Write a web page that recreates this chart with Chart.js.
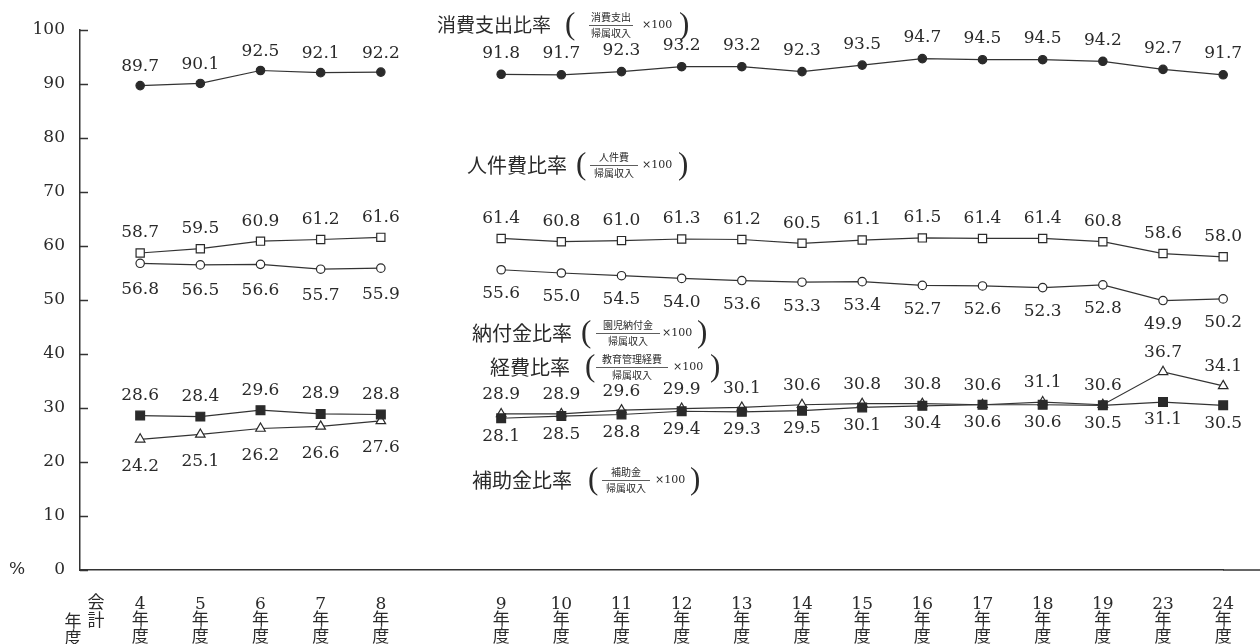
<!DOCTYPE html>
<html><head><meta charset="utf-8">
<script src="https://cdn.jsdelivr.net/npm/chart.js@4.4.1/dist/chart.umd.min.js"></script>
<style>html,body{margin:0;padding:0;background:#fff}#wrap{width:1260px;height:644px;position:relative}</style>
</head><body><div id="wrap"><canvas id="c"></canvas></div>
<script>
// Categories (fiscal years); "" entries are spacing slots (leading slot and gap between 8 and 9)
const categories = ["", "4","5","6","7","8", "", "9","10","11","12","13","14","15","16","17","18","19","23","24"];
const yTicks = [0,10,20,30,40,50,60,70,80,90,100];

// 消費支出比率 (filled circles)
const consumptionRatio = [null, 89.7, 90.1, 92.5, 92.1, 92.2, null, 91.8, 91.7, 92.3, 93.2, 93.2, 92.3, 93.5, 94.7, 94.5, 94.5, 94.2, 92.7, 91.7];
// 人件費比率 (open squares)
const personnelRatio = [null, 58.7, 59.5, 60.9, 61.2, 61.6, null, 61.4, 60.8, 61.0, 61.3, 61.2, 60.5, 61.1, 61.5, 61.4, 61.4, 60.8, 58.6, 58.0];
// 納付金比率 (open circles)
const tuitionRatio = [null, 56.8, 56.5, 56.6, 55.7, 55.9, null, 55.6, 55.0, 54.5, 54.0, 53.6, 53.3, 53.4, 52.7, 52.6, 52.3, 52.8, 49.9, 50.2];
// 補助金比率 (filled squares)
const subsidyRatio = [null, 28.6, 28.4, 29.6, 28.9, 28.8, null, 28.1, 28.5, 28.8, 29.4, 29.3, 29.5, 30.1, 30.4, 30.6, 30.6, 30.5, 31.1, 30.5];
// 経費比率 (open triangles)
const expenseRatio = [null, 24.2, 25.1, 26.2, 26.6, 27.6, null, 28.9, 28.9, 29.6, 29.9, 30.1, 30.6, 30.8, 30.8, 30.6, 31.1, 30.6, 36.7, 34.1];

const gapIndex = categories.indexOf("", 1);
const INK = '#2a2a2a';
const NUMFONT = '"DejaVu Serif", "Noto Sans CJK JP", serif';
const JPFONT = '"Noto Sans CJK JP", sans-serif';

function ds(label, data, style, fill, radius, offs){
  return {label, data, pointStyle: style, pointRadius: radius, pointHoverRadius: radius,
    pointBackgroundColor: fill, pointBorderColor: INK, pointBorderWidth: 1.2,
    borderColor: '#333', borderWidth: 1.2, spanGaps: false, fill: false, tension: 0,
    labelOffsets: offs, clip: false};
}

const valuePlugin = {
  id: 'vals',
  afterDatasetsDraw(chart){
    const ctx = chart.ctx;
    ctx.save();
    ctx.font = '17px ' + NUMFONT;
    ctx.fillStyle = INK;
    ctx.textAlign = 'center';
    ctx.textBaseline = 'middle';
    chart.data.datasets.forEach((d, i) => {
      const meta = chart.getDatasetMeta(i);
      meta.data.forEach((el, j) => {
        const v = d.data[j];
        if (v == null) return;
        const off = j < gapIndex ? d.labelOffsets[0] : d.labelOffsets[1];
        ctx.fillText(v.toFixed(1), el.x, el.y + off);
      });
    });
    ctx.restore();
  }
};

const annos = [
  {title:'消費支出比率', num:'消費支出', tx:437, y:25, fs:19, open:565, fc:611, fh:22, tm:642, close:679},
  {title:'人件費比率', num:'人件費', tx:467, y:165, fs:20, open:576, fc:614, fh:24, tm:642, close:678},
  {title:'納付金比率', num:'園児納付金', tx:472, y:333, fs:20, open:581, fc:628, fh:32, tm:662, close:697},
  {title:'経費比率', num:'教育管理経費', tx:490, y:367, fs:20, open:585, fc:632, fh:36, tm:673, close:710},
  {title:'補助金比率', num:'補助金', tx:472, y:480, fs:20, open:588, fc:626, fh:24, tm:655, close:690}
];

const decorPlugin = {
  id: 'decor',
  afterDraw(chart){
    const ctx = chart.ctx, ca = chart.chartArea, ys = chart.scales.y;
    ctx.save();
    ctx.strokeStyle = '#333';
    ctx.lineWidth = 1.5;
    // inward tick marks
    ys.ticks.forEach(t => {
      const py = Math.round(ys.getPixelForValue(t.value)) + 0.5;
      ctx.beginPath(); ctx.moveTo(ca.left, py); ctx.lineTo(ca.left + 8, py); ctx.stroke();
    });
    // extend bottom axis to the right edge
    ctx.beginPath(); ctx.moveTo(ca.right, ca.bottom); ctx.lineTo(chart.width, ca.bottom); ctx.stroke();
    ctx.fillStyle = INK;
    ctx.textBaseline = 'middle';
    // % unit
    ctx.textAlign = 'center';
    ctx.font = '17px ' + NUMFONT;
    ctx.fillText('%', 17, ca.bottom);
    // 会計年度
    ctx.font = '17px ' + JPFONT;
    ctx.fillText('会', 96, 602); ctx.fillText('計', 96, 620);
    ctx.fillText('年', 73, 621); ctx.fillText('度', 73, 638);
    // annotations
    annos.forEach(a => {
      ctx.textAlign = 'left';
      ctx.font = a.fs + 'px ' + JPFONT;
      ctx.fillText(a.title, a.tx, a.y);
      ctx.font = '31px "Liberation Serif"';
      ctx.fillText('(', a.open, a.y + 1);
      ctx.fillText(')', a.close, a.y + 1);
      ctx.textAlign = 'center';
      ctx.font = '10px ' + JPFONT;
      ctx.fillText(a.num, a.fc, a.y - 8);
      ctx.fillText('帰属収入', a.fc, a.y + 8);
      ctx.lineWidth = 0.8;
      ctx.beginPath(); ctx.moveTo(a.fc - a.fh, a.y + 0.5); ctx.lineTo(a.fc + a.fh, a.y + 0.5); ctx.stroke();
      ctx.textAlign = 'left';
      ctx.font = '11px "DejaVu Serif"';
      ctx.fillText('×100', a.tm, a.y);
    });
    ctx.restore();
  }
};

new Chart(document.getElementById('c'), {
  type: 'line',
  data: {
    labels: categories.map(c => c === "" ? [""] : [c, '年', '度']),
    datasets: [
      ds('消費支出比率', consumptionRatio, 'circle', INK, 4.2, [-19, -21]),
      ds('人件費比率', personnelRatio, 'rect', '#fff', 5.8, [-20, -20]),
      ds('納付金比率', tuitionRatio, 'circle', '#fff', 4.2, [26, 24]),
      ds('補助金比率', subsidyRatio, 'rect', INK, 6.2, [-20, 18]),
      ds('経費比率', expenseRatio, 'triangle', '#fff', 5.5, [27, -19])
    ]
  },
  options: {
    responsive: true, maintainAspectRatio: false, animation: false,
    layout: {padding: {top: 30, right: 20, left: 0, bottom: 0}},
    plugins: {legend: {display: false}, tooltip: {enabled: false}},
    events: [],
    scales: {
      x: {
        type: 'category', offset: false,
        grid: {display: true, drawOnChartArea: false, drawTicks: false},
        border: {display: true, color: '#333', width: 1.5},
        ticks: {autoSkip: false, maxRotation: 0, minRotation: 0, padding: 26, color: INK,
          font: {family: NUMFONT, size: 17, lineHeight: 0.97}},
        afterFit: s => { s.height = 74; }
      },
      y: {
        min: 0, max: 100,
        afterBuildTicks: s => { s.ticks = yTicks.map(v => ({value: v})); },
        grid: {display: true, drawOnChartArea: false, drawTicks: false},
        border: {display: true, color: '#333', width: 1.5},
        ticks: {padding: 15, color: INK, font: {family: NUMFONT, size: 17}},
        afterFit: s => { s.width = 80; }
      }
    }
  },
  plugins: [valuePlugin, decorPlugin]
});
</script>
</body></html>
